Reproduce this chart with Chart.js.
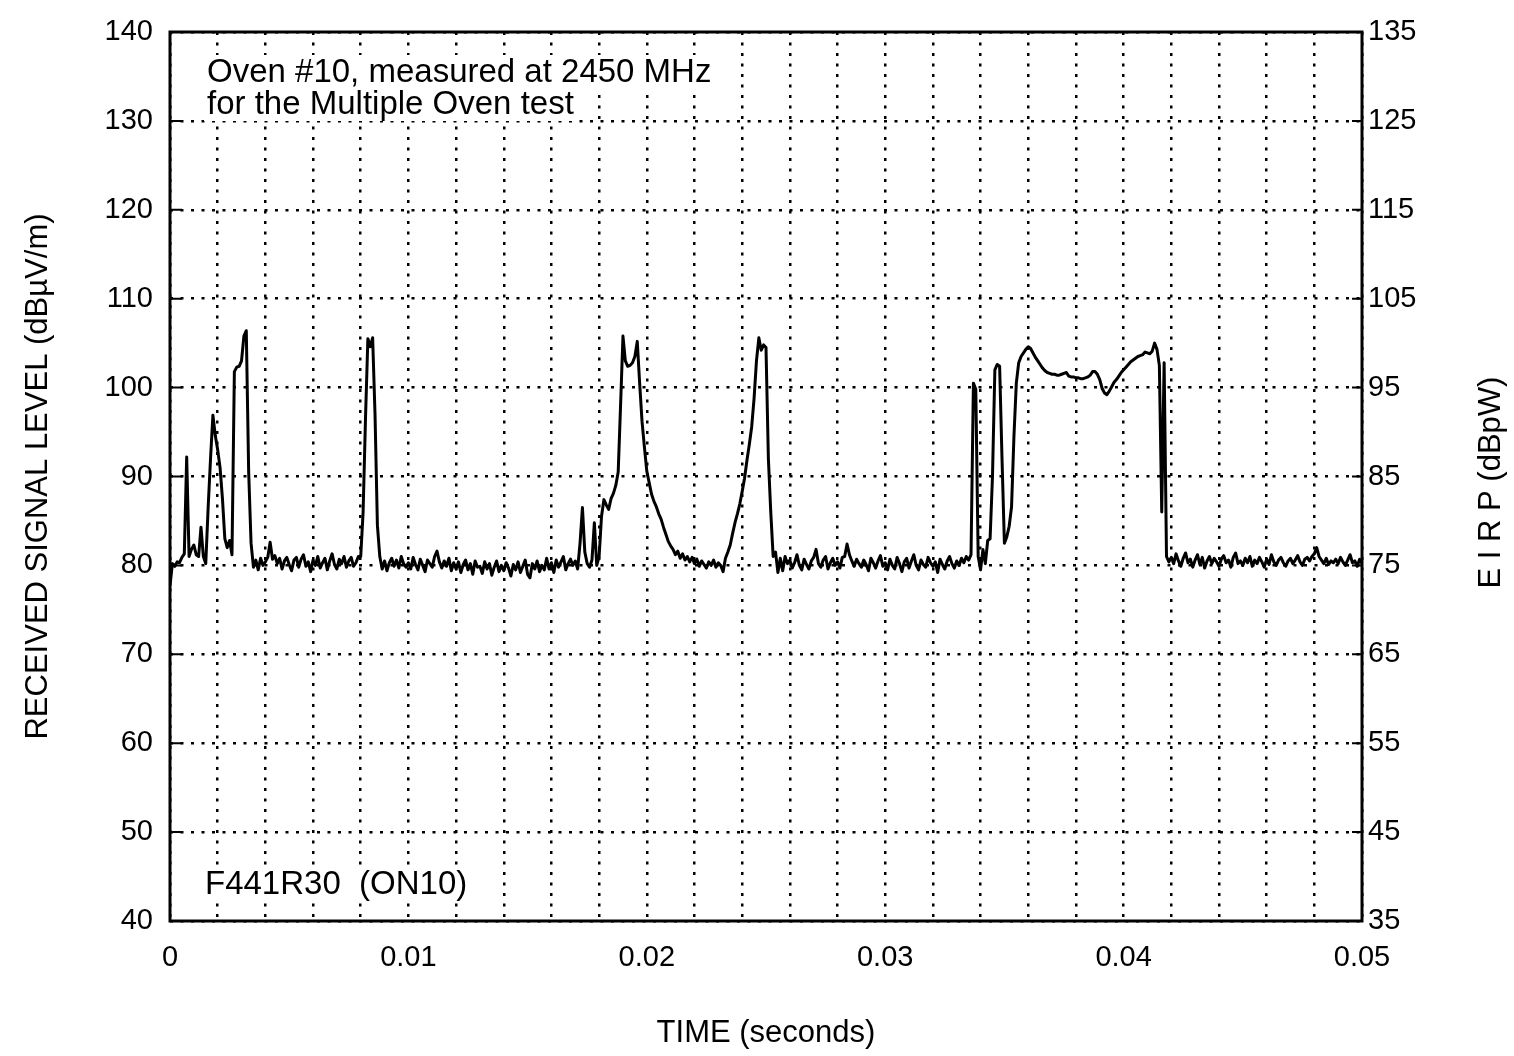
<!DOCTYPE html>
<html><head><meta charset="utf-8">
<script src="https://cdn.jsdelivr.net/npm/chart.js@4/dist/chart.umd.min.js"></script>
<style>html,body{margin:0;padding:0;background:#fff;}canvas{display:block;}</style>
</head><body>
<canvas id="c" width="1514" height="1056"></canvas>
<script>
const FONT = "'Liberation Sans', Arial, sans-serif";

// sample spacing of the recorded trace, in milliseconds
const timeStepMs = 0.1;

// received signal level, dBµV/m, one value per 0.1 ms from 0 to 50 ms
const signalLevel = [
 77.7, 80.2, 79.9, 80.4, 80.3, 80.9, 81.3, 92.2, 81.0, 81.8,
 82.3, 81.2, 81.0, 84.3, 81.0, 80.2, 86.5, 92.0, 96.9, 94.6,
 93.0, 91.0, 87.5, 83.0, 82.0, 82.8, 81.2, 101.8, 102.3, 102.4,
 103.0, 105.8, 106.4, 90.5, 82.5, 79.8, 80.6, 79.5, 80.8, 80.0,
 80.4, 80.9, 82.6, 80.7, 81.1, 80.2, 80.8, 79.6, 80.5, 80.9,
 80.1, 79.4, 80.6, 80.9, 79.8, 80.7, 81.2, 79.9, 80.4, 79.3,
 80.6, 80.0, 81.0, 79.7, 80.3, 80.8, 79.5, 80.5, 81.3, 80.1,
 79.6, 80.7, 80.2, 81.0, 79.8, 80.5, 80.9, 79.9, 80.3, 81.0,
 81.0, 86.0, 96.5, 105.5, 104.6, 105.6, 97.0, 84.5, 81.0, 79.6,
 80.5, 79.4, 80.3, 80.8, 79.9, 80.6, 79.7, 81.0, 80.2, 79.8,
 80.3, 79.6, 80.9, 80.1, 79.5, 80.7, 80.0, 79.3, 80.6, 80.2,
 79.8, 81.0, 81.6, 80.4, 79.7, 80.5, 79.9, 80.8, 79.4, 80.3,
 79.6, 80.4, 79.2, 80.1, 80.6, 79.5, 80.2, 79.0, 80.5, 79.8,
 79.9, 79.1, 80.4, 79.6, 80.2, 78.9, 79.8, 80.5, 79.3, 80.0,
 79.4, 80.3, 79.7, 78.8, 80.1, 79.5, 80.4, 79.2, 79.9, 80.6,
 79.0, 78.6, 80.2, 79.6, 80.5, 79.3, 80.0, 79.5, 80.8, 79.6,
 80.3, 79.2, 80.6, 79.8, 80.4, 81.0, 79.5, 80.2, 80.7, 80.0,
 80.5, 79.6, 82.5, 86.5, 81.5, 80.2, 79.8, 80.6, 84.8, 80.0,
 81.0, 85.5, 87.4, 86.8, 86.3, 87.5, 88.1, 89.0, 90.5, 98.0,
 105.8, 103.0, 102.4, 102.5, 102.8, 103.5, 105.2, 100.5, 96.2, 93.3,
 90.6, 89.3, 88.0, 87.2, 86.6, 85.8, 85.2, 84.3, 83.5, 82.7,
 82.2, 81.8, 81.2, 81.6, 80.8, 81.3, 80.6, 81.0, 80.4, 80.9,
 80.2, 80.7, 79.9, 80.5, 80.1, 79.7, 80.4, 80.0, 80.6, 79.8,
 80.3, 80.0, 79.3, 80.8, 81.5, 82.3, 83.6, 84.8, 85.8, 86.9,
 88.3, 89.8, 91.8, 93.6, 95.6, 98.8, 103.0, 105.6, 104.2, 104.8,
 104.5, 92.0, 86.0, 81.0, 81.5, 79.2, 80.8, 79.4, 81.0, 80.2,
 80.6, 79.7, 80.3, 81.2, 80.0, 79.5, 80.7, 80.1, 79.6, 80.5,
 80.9, 81.8, 80.2, 79.8, 80.6, 81.0, 79.6, 80.3, 80.8, 80.0,
 80.4, 79.7, 80.9, 81.0, 82.4, 81.2, 80.5, 79.9, 80.7, 80.2,
 79.8, 80.6, 80.1, 79.4, 80.8, 80.3, 79.7, 80.5, 81.1, 79.9,
 80.3, 79.5, 80.7, 80.0, 79.6, 80.9, 80.2, 79.3, 80.4, 80.8,
 79.7, 80.5, 81.2, 80.0, 79.5, 80.6, 80.1, 79.8, 80.9, 80.3,
 79.9, 80.4, 79.2, 80.7, 80.1, 79.6, 80.5, 81.0, 80.2, 79.7,
 80.5, 80.0, 80.8, 80.3, 81.0, 80.6, 81.2, 100.5, 99.8, 81.0,
 79.5, 81.8, 80.2, 82.8, 83.0, 90.0, 102.0, 102.6, 102.4, 92.0,
 82.5, 83.2, 84.4, 86.6, 94.5, 100.5, 102.8, 103.5, 103.9, 104.3,
 104.6, 104.4, 103.9, 103.4, 103.0, 102.6, 102.2, 101.9, 101.7, 101.6,
 101.5, 101.5, 101.4, 101.4, 101.5, 101.6, 101.7, 101.3, 101.2, 101.2,
 101.1, 101.1, 101.0, 101.0, 101.1, 101.2, 101.4, 101.8, 101.8, 101.5,
 100.9, 99.9, 99.4, 99.2, 99.6, 100.1, 100.6, 100.9, 101.3, 101.7,
 102.0, 102.3, 102.6, 102.9, 103.1, 103.3, 103.5, 103.6, 103.7, 104.0,
 103.9, 103.8, 104.1, 105.0, 104.3, 102.5, 86.0, 102.8, 81.0, 80.4,
 80.9, 80.2, 81.3, 80.5, 79.9, 80.8, 81.4, 80.3, 80.7, 79.8,
 80.6, 81.2, 80.1, 80.9, 79.7, 80.5, 81.0, 80.2, 80.8, 80.4,
 79.9, 80.7, 81.1, 80.3, 80.6, 79.8, 80.9, 81.4, 80.2, 80.5,
 80.0, 80.8, 80.3, 81.0, 79.9, 80.6, 80.2, 80.9, 80.4, 79.8,
 80.7, 80.1, 81.2, 80.4, 80.0, 80.6, 80.9, 80.3, 79.9, 80.5,
 80.8, 80.2, 80.6, 81.1, 80.4, 80.0, 80.7, 80.9, 80.5, 81.0,
 81.3, 82.0, 81.0, 80.6, 80.2, 80.8, 80.1, 80.5, 80.3, 80.7,
 80.2, 80.9, 80.4, 80.0, 80.6, 81.2, 80.3, 80.5, 79.9, 80.7,
 80.2
];

// axis ranges and labels
const xRangeMs = [0, 50];
const xGridStepMs = 2;
const xTickLabels = ['0', '0.01', '0.02', '0.03', '0.04', '0.05'];   // seconds, every 10 ms
const leftRange = [40, 140];     // dBµV/m
const rightRange = [35, 135];    // dBpW (EIRP)
const yStep = 10;

const xTitle = 'TIME (seconds)';
const yTitle = 'RECEIVED SIGNAL LEVEL (dBµV/m)';
const y2Title = 'E I R P (dBpW)';
const noteLines = ['Oven #10, measured at 2450 MHz', 'for the Multiple Oven test'];
const runLabel = 'F441R30  (ON10)';

const points = signalLevel.map((v, i) => ({x: i * timeStepMs, y: v}));

const DASH = [3, 7.5];
const TICK_FONT = {family: FONT, size: 29, lineHeight: 1};
const TITLE_SIZE = 31;
const NOTE_SIZE = 33;

const decor = {
  id: 'decor',
  beforeDatasetsDraw(chart) {
    const {ctx, chartArea: a} = chart;
    ctx.save();
    ctx.font = `${NOTE_SIZE}px ${FONT}`;
    ctx.textBaseline = 'alphabetic';
    const items = [
      [noteLines[0], a.left + 37, 82],
      [noteLines[1], a.left + 37, 114],
      [runLabel, a.left + 35, 894]
    ];
    for (const [t, x, y] of items) {
      const w = ctx.measureText(t).width;
      ctx.fillStyle = '#fff';
      ctx.fillRect(x - 3, y - 27, w + 6, 34);
    }
    ctx.fillStyle = '#000';
    for (const [t, x, y] of items) ctx.fillText(t, x, y);
    ctx.restore();
  },
  afterDatasetsDraw(chart) {
    const {ctx, chartArea: a, scales} = chart;
    ctx.save();
    ctx.strokeStyle = '#000';
    ctx.lineWidth = 2;
    ctx.beginPath();
    for (let v = leftRange[0]; v <= leftRange[1]; v += yStep) {
      const py = scales.y.getPixelForValue(v);
      ctx.moveTo(a.left, py); ctx.lineTo(a.left + 12, py);
      ctx.moveTo(a.right, py); ctx.lineTo(a.right - 10, py);
    }
    ctx.stroke();
    ctx.lineWidth = 3;
    ctx.strokeRect(a.left, a.top, a.right - a.left, a.bottom - a.top);
    // right axis title, reading bottom-to-top
    ctx.translate(1491, (a.top + a.bottom) / 2 + 6);
    ctx.rotate(-Math.PI / 2);
    ctx.font = `${TITLE_SIZE}px ${FONT}`;
    ctx.fillStyle = '#000';
    ctx.textAlign = 'center';
    ctx.textBaseline = 'middle';
    ctx.fillText(y2Title, 0, 0);
    ctx.restore();
  }
};

new Chart(document.getElementById('c'), {
  type: 'line',
  data: {datasets: [{
    data: points, borderColor: '#000', borderWidth: 3, pointRadius: 0,
    tension: 0, fill: false, borderJoinStyle: 'round'
  }]},
  options: {
    responsive: false, animation: false, devicePixelRatio: 1,
    layout: {padding: {top: 32, left: 0, right: 0, bottom: 0}},
    plugins: {legend: {display: false}, tooltip: {enabled: false}},
    scales: {
      x: {
        type: 'linear', min: xRangeMs[0], max: xRangeMs[1],
        afterFit(s) { s.height = 135; },
        ticks: {
          stepSize: xGridStepMs, autoSkip: false, maxRotation: 0, color: '#000',
          font: TICK_FONT, padding: 22,
          callback: (v) => { const r = Math.round(v); return r % 10 === 0 ? xTickLabels[r / 10] : ''; }
        },
        grid: {color: '#000', lineWidth: 2.5, drawTicks: false},
        border: {display: false, dash: DASH},
        title: {display: true, text: xTitle, color: '#000', font: {family: FONT, size: TITLE_SIZE}, padding: {top: 4, bottom: 4}}
      },
      y: {
        type: 'linear', position: 'left', min: leftRange[0], max: leftRange[1],
        afterFit(s) { s.width = 170; },
        ticks: {stepSize: yStep, color: '#000', font: TICK_FONT, padding: 17},
        grid: {color: '#000', lineWidth: 2.5, drawTicks: false},
        border: {display: false, dash: DASH},
        title: {display: true, text: yTitle, color: '#000', font: {family: FONT, size: TITLE_SIZE}, padding: {top: 20, bottom: 0}}
      },
      y2: {
        type: 'linear', position: 'right', min: rightRange[0], max: rightRange[1],
        afterFit(s) { s.width = 152; },
        ticks: {stepSize: yStep, color: '#000', font: TICK_FONT, padding: 6},
        grid: {display: false, drawTicks: false},
        border: {display: false}
      }
    }
  },
  plugins: [decor]
});
</script>
</body></html>
